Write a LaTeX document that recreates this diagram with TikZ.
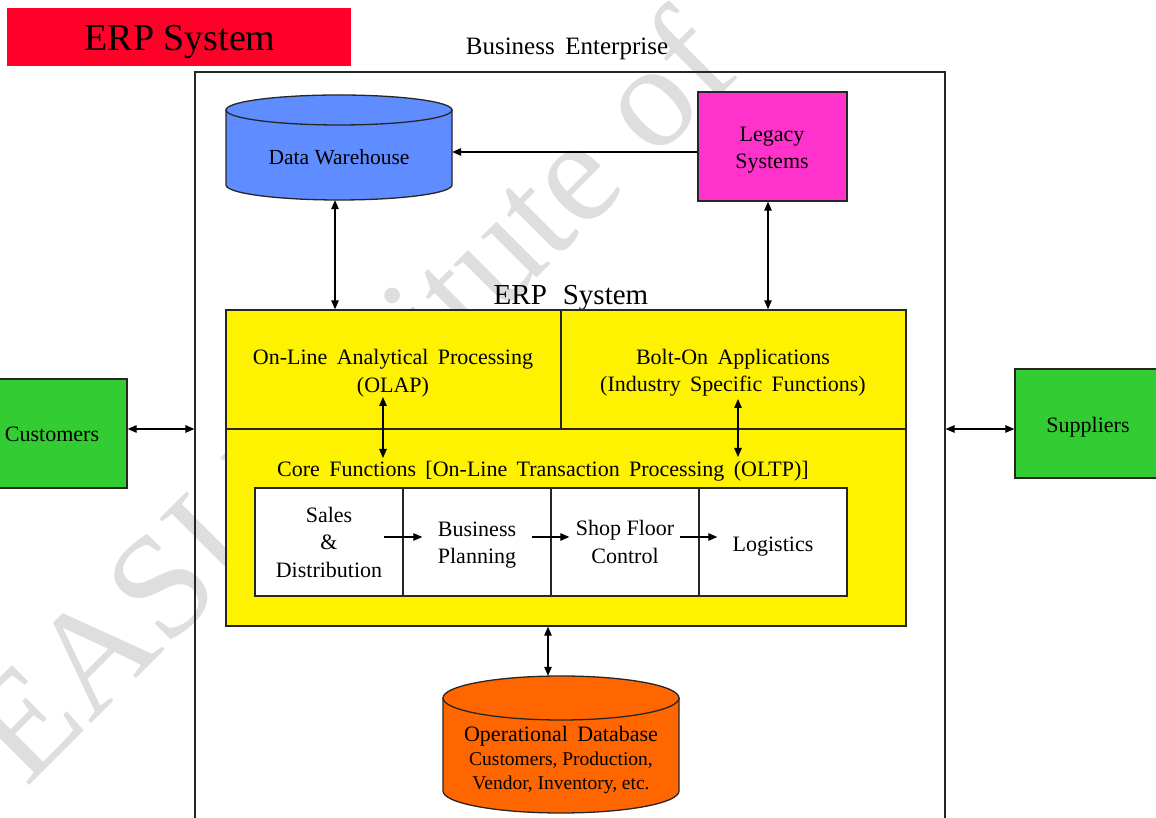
\documentclass[tikz,border=0pt]{standalone}
\usepackage{fontspec}
\setmainfont{Liberation Serif}
\newfontfamily\wsp[WordSpace=1.7]{Liberation Serif}
\usetikzlibrary{arrows.meta}
\definecolor{titlered}{RGB}{255,0,40}
\definecolor{dwblue}{RGB}{95,140,255}
\definecolor{legmag}{RGB}{255,51,204}
\definecolor{extgreen}{RGB}{51,204,51}
\definecolor{oporange}{RGB}{255,102,0}
\definecolor{wmgray}{RGB}{222,222,222}
\tikzset{
  box/.style={draw=black!85, line width=1.4pt, inner sep=0pt, align=center},
  txt/.style={inner sep=0pt, align=center},
  body/.style={font=\fontsize{22}{27.5}\selectfont},
  wbody/.style={font=\wsp\fontsize{22}{27.5}\selectfont},
  tip/.tip={Triangle[length=9pt,width=7.5pt]},
  one/.style={-tip, line width=1.3pt},
  dbl/.style={tip-tip, line width=1.3pt}
}
\begin{document}
\begin{tikzpicture}[x=1pt,y=1pt]
\useasboundingbox (0,0) rectangle (1156,818);
\fill[white] (0,0) rectangle (1156,818);
\clip (0,0) rectangle (1156,818);

% faint diagonal watermark behind the drawing
\node[txt, rotate=45, text=wmgray, font=\fontsize{148}{148}\selectfont] (wm) at (348,423) {EASI Institute of};

% heading
\node[fill=titlered, minimum width=344pt, minimum height=58pt, inner sep=0pt] (title) at (179,781) {};
\node[txt, font=\fontsize{38}{40}\selectfont] (titletext) at (180,776) {ERP System};
\node[txt, font=\wsp\fontsize{25}{28}\selectfont] (enttitle) at (567,769) {Business Enterprise};

% enterprise frame
\node[box, line width=1.2pt, minimum width=750pt, minimum height=751pt] (ent) at (570,370.5) {};

% data warehouse cylinder
\path[draw=black!85, line width=1.3pt, fill=dwblue]
  (226,708) -- (226,633) arc[start angle=180, end angle=360, x radius=113, y radius=15] -- (452,708) -- cycle;
\draw[line width=1.3pt, draw=black!85, fill=dwblue] (339,708) ellipse[x radius=113, y radius=15];
\node[inner sep=0pt, minimum width=226pt, minimum height=105pt] (dw) at (339,670.5) {};
\node[txt, font=\fontsize{21.5}{26}\selectfont] (dwtext) at (339,661) {Data Warehouse};

% legacy systems
\node[box, fill=legmag, minimum width=149pt, minimum height=109pt] (legacy) at (772.5,671.5) {};
\node[txt, body] (legtext) at (772,668) {Legacy\\Systems};

\draw[one] ([yshift=-5.5pt]legacy.west) -- ([yshift=-5.5pt]legacy.west -| dw.east);

% ERP system block
\node[txt, font=\fontsize{29}{32}\selectfont] (erptitle) at (571,520) {ERP\hspace{0.55em}System};
\node[box, fill=yellow, minimum width=335pt, minimum height=119pt] (olap) at (393.5,448.5) {};
\node[box, fill=yellow, minimum width=345pt, minimum height=119pt] (bolt) at (733.5,448.5) {};
\node[box, fill=yellow, minimum width=680pt, minimum height=197pt] (core) at (566,290.5) {};
\node[txt, wbody] (olaptext) at (393,445) {On-Line Analytical Processing\\(OLAP)};
\node[txt, wbody] (bolttext) at (733,445) {Bolt-On Applications\\(Industry Specific Functions)};
\node[txt, wbody] (coretext) at (543,347) {Core Functions [On-Line Transaction Processing (OLTP)]};

\draw[dbl] ([xshift=-4pt]dw.south) -- ([xshift=-4pt]dw.south |- olap.north);
\draw[dbl] ([xshift=-4.5pt]legacy.south) -- ([xshift=-4.5pt]legacy.south |- bolt.north);

\coordinate (olapend) at (383,421);
\coordinate (coreolap) at (383,360);
\coordinate (boltend) at (738,419);
\coordinate (corebolt) at (738,361);
\draw[dbl] (olapend) -- (coreolap);
\draw[dbl] (boltend) -- (corebolt);

% core function chain
\node[box, fill=white, minimum width=148pt, minimum height=108pt, body] (sd) at (329,276) {Sales\\\&\\Distribution};
\node[box, fill=white, minimum width=148pt, minimum height=108pt] (bp) at (477,276) {};
\node[txt, body] (bptext) at (477,273) {Business\\Planning};
\node[box, fill=white, minimum width=148pt, minimum height=108pt, body] (sf) at (625,276) {Shop Floor\\Control};
\node[box, fill=white, minimum width=148pt, minimum height=108pt] (lg) at (773,276) {};
\node[txt, body] (lgtext) at (773,271) {Logistics};
\draw[one] ([xshift=-20pt,yshift=5pt]sd.east) -- ([xshift=20pt,yshift=5pt]bp.west);
\draw[one] ([xshift=-20pt,yshift=5pt]bp.east) -- ([xshift=19pt,yshift=5pt]sf.west);
\draw[one] ([xshift=-20pt,yshift=5pt]sf.east) -- ([xshift=19pt,yshift=5pt]lg.west);

% operational database cylinder
\path[draw=black!85, line width=1.3pt, fill=oporange]
  (443,120) -- (443,27) arc[start angle=180, end angle=360, x radius=118, y radius=22] -- (679,120) -- cycle;
\draw[line width=1.3pt, draw=black!85, fill=oporange] (561,120) ellipse[x radius=118, y radius=22];
\node[inner sep=0pt, minimum width=236pt, minimum height=137pt] (opdb) at (561,73.5) {};
\node[txt, font=\fontsize{19.5}{24}\selectfont] (opdbtext) at (561,58) {{\wsp\fontsize{22}{25}\selectfont Operational Database}\\
  Customers, Production,\\
  Vendor, Inventory, etc.};
\draw[dbl] ([xshift=-18pt]core.south) -- ([xshift=-18pt]core.south |- opdb.north);

% outside parties
\node[box, fill=extgreen, minimum width=132pt, minimum height=109pt] (cust) at (61,384.5) {};
\node[txt, body] (custtext) at (52,384) {Customers};
\node[box, fill=extgreen, minimum width=150pt, minimum height=109pt] (sup) at (1090,394.5) {};
\node[txt, body] (suptext) at (1088,391) {Suppliers};
\draw[dbl] ([yshift=4.5pt]cust.east) -- ([yshift=4.5pt]cust.east -| ent.west);
\draw[dbl] ([yshift=-5.5pt]sup.west) -- ([yshift=-5.5pt]sup.west -| ent.east);
\end{tikzpicture}
\end{document}
